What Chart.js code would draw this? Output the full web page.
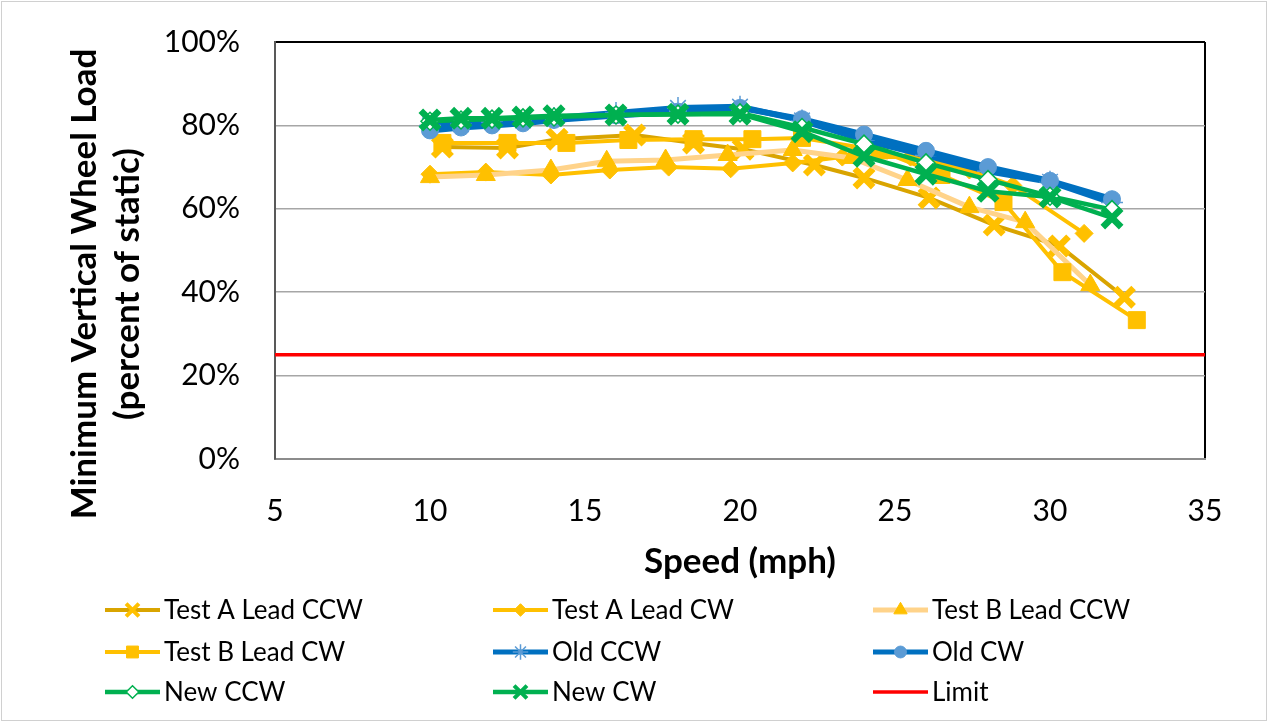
<!DOCTYPE html>
<html><head><meta charset="utf-8">
<script src="https://cdn.jsdelivr.net/npm/chart.js@4/dist/chart.umd.min.js"></script>
<style>
html,body{margin:0;padding:0;background:#fff;}
#wrap{position:relative;width:1268px;height:722px;overflow:hidden;}
#frame{position:absolute;left:1px;top:1px;right:1px;bottom:1px;border:1px solid #d0d0d0;pointer-events:none;}
canvas{display:block;}
</style></head><body>
<div id="wrap"><canvas id="c" width="1268" height="722"></canvas><div id="frame"></div></div>
<script>
// ---- data ----
const xTickValues = [5, 10, 15, 20, 25, 30, 35];
const yTickValues = [0, 20, 40, 60, 80, 100];
const seriesNames = ['Test A Lead CCW','Test A Lead CW','Test B Lead CCW','Test B Lead CW','Old CCW','Old CW','New CCW','New CW','Limit'];

const testACcwX = [10.4,12.5,14.1,16.6,18.5,20.1,22.4,24.0,26.1,28.2,30.3,32.4];
const testACcwY = [74.8,74.6,76.7,77.7,75.8,74.3,70.5,67.4,62.6,56.1,51.1,38.8];

const testACwX = [10.0,11.8,13.9,15.8,17.7,19.7,21.7,23.3,25.5,27.4,28.8,31.1];
const testACwY = [68.3,68.8,68.1,69.3,70.0,69.6,71.0,72.4,72.4,69.3,65.6,54.1];

const testBCcwX = [10.0,11.8,13.9,15.7,17.6,19.6,21.7,23.6,25.4,27.4,29.2,31.3];
const testBCcwY = [67.6,68.1,69.3,71.4,71.7,72.9,74.1,72.2,66.9,60.4,56.8,41.7];

const testBCwX = [10.4,12.5,14.4,16.4,18.5,20.4,22.0,24.5,26.5,28.5,30.4,32.8];
const testBCwY = [75.8,75.8,75.8,76.5,76.7,76.7,77.0,74.0,68.1,61.6,44.8,33.3];

const oldX = [10,11,12,13,14,16,18,20,22,24,26,28,30,32];
const oldCcwY = [80.0,80.3,80.8,81.2,81.8,83.0,84.2,84.5,81.2,76.5,72.8,69.0,66.5,61.5];
const oldCwY  = [78.8,79.5,80.0,80.5,81.3,82.4,83.3,84.2,81.5,77.8,73.9,70.0,66.7,62.3];

const newX = [10,11,12,13,14,16,18,20,22,24,26,28,30,32];
const newCcwY = [81.0,81.3,81.5,81.8,82.0,82.5,82.7,83.0,79.5,75.5,71.0,67.0,63.0,59.8];
const newCwY  = [81.3,81.7,81.7,82.0,82.3,82.5,82.7,82.7,78.5,72.6,68.3,64.2,62.8,57.8];

const limitX = [5, 35];
const limitY = [25, 25];

// ---- styling ----
const pts = (xs, ys) => xs.map((x, i) => ({x: x, y: ys[i]}));
function ds(i, xs, ys, st) {
  return {
    label: seriesNames[i],
    data: pts(xs, ys),
    order: 20 - i,
    borderColor: st.line,
    borderWidth: st.width,
    pointStyle: st.style || false,
    pointRadius: st.style ? st.radius : 0,
    pointHoverRadius: st.style ? st.radius : 0,
    pointBackgroundColor: st.fill || st.mark,
    pointBorderColor: st.mark,
    pointBorderWidth: st.pbw,
    tension: 0,
    fill: false
  };
}
const datasets = [
  ds(0, testACcwX, testACcwY, {line:'#D9A400', width:4, style:'crossRot', mark:'#FFC000', radius:13, pbw:6.5}),
  ds(1, testACwX, testACwY, {line:'#FFC000', width:4, style:'rectRot', mark:'#FFC000', radius:9, pbw:1}),
  ds(2, testBCcwX, testBCcwY, {line:'#FFD38A', width:5, style:'triangle', mark:'#FFC000', radius:11, pbw:1}),
  ds(3, testBCwX, testBCwY, {line:'#FFC000', width:4, style:'rect', mark:'#FFC000', radius:12, pbw:1}),
  ds(4, oldX, oldCcwY, {line:'#0070C0', width:6, style:'star', mark:'#5B9BD5', radius:11, pbw:1.5}),
  ds(5, oldX, oldCwY, {line:'#0070C0', width:6, style:'circle', mark:'#5B9BD5', radius:8.5, pbw:1}),
  ds(6, newX, newCcwY, {line:'#00B050', width:4.5, style:'rectRot', mark:'#00B050', fill:'#FFFFFF', radius:9, pbw:1.5}),
  ds(7, newX, newCwY, {line:'#00B050', width:4.5, style:'crossRot', mark:'#00B050', radius:13, pbw:6.5}),
  ds(8, limitX, limitY, {line:'#FF0000', width:3.5})
];

const FONT = 'Lato';

// y axis title (two lines, rotated) drawn at the position Excel uses
const yTitlePlugin = {
  id: 'yTitle',
  afterDraw(chart) {
    const ctx = chart.ctx;
    ctx.save();
    ctx.fillStyle = '#000';
    ctx.font = 'bold 35px ' + FONT;
    ctx.textAlign = 'center';
    ctx.textBaseline = 'middle';
    const lines = ['Minimum Vertical Wheel Load', '(percent of static)'];
    const xs = [85, 128];
    lines.forEach((t, i) => {
      ctx.save();
      ctx.translate(xs[i], 284);
      ctx.rotate(-Math.PI / 2);
      ctx.fillText(t, 0, 0);
      ctx.restore();
    });
    ctx.restore();
  }
};

// three-column legend like the reference
const legendPlugin = {
  id: 'gridLegend',
  afterDraw(chart) {
    const ctx = chart.ctx;
    const colX = [105, 493, 873];
    const rowY = [610, 652, 692];
    const lineLen = 55;
    chart.data.datasets.forEach((d, i) => {
      const x0 = colX[i % 3], y = rowY[Math.floor(i / 3)];
      ctx.save();
      ctx.strokeStyle = d.borderColor;
      ctx.lineWidth = Math.min(d.borderWidth, 5);
      ctx.beginPath();
      ctx.moveTo(x0, y);
      ctx.lineTo(x0 + lineLen, y);
      ctx.stroke();
      if (d.pointStyle) {
        ctx.fillStyle = d.pointBackgroundColor;
        ctx.strokeStyle = d.pointBorderColor;
        ctx.lineWidth = d.pointStyle === 'crossRot' ? 4 : d.pointBorderWidth;
        Chart.helpers.drawPoint(ctx, {pointStyle: d.pointStyle, radius: d.pointRadius * 0.7, rotation: 0, borderWidth: ctx.lineWidth}, x0 + lineLen / 2, y);
      }
      ctx.fillStyle = '#000';
      ctx.font = '26px ' + FONT;
      ctx.textAlign = 'left';
      ctx.textBaseline = 'middle';
      ctx.fillText(d.label, x0 + lineLen + 4, y + 1);
      ctx.restore();
    });
  }
};

function build() {
  Chart.defaults.font.family = FONT;
  Chart.defaults.color = '#000';
  new Chart(document.getElementById('c'), {
    type: 'line',
    data: { datasets: datasets },
    options: {
      responsive: false,
      animation: false,
      events: [],
      layout: { padding: { top: 42, right: 63, left: 0, bottom: 0 } },
      plugins: { legend: { display: false }, tooltip: { enabled: false } },
      scales: {
        x: {
          type: 'linear',
          min: xTickValues[0],
          max: xTickValues[xTickValues.length - 1],
          afterBuildTicks: s => { s.ticks = xTickValues.map(v => ({value: v})); },
          afterFit: s => { s.height = 263; s.paddingLeft = 0; s.paddingRight = 0; },
          ticks: { font: { size: 30 }, padding: 34, color: '#000' },
          grid: {
            drawTicks: false,
            color: c => (c.tick && c.tick.value === 35) ? '#000' : 'rgba(0,0,0,0)',
            lineWidth: 2
          },
          border: { color: '#8c8c8c', width: 2 },
          title: { display: true, text: 'Speed (mph)', font: { size: 35, weight: 'bold' }, color: '#000', padding: { top: 0, bottom: 139 } }
        },
        y: {
          min: 0, max: 100,
          afterBuildTicks: s => { s.ticks = yTickValues.map(v => ({value: v})); },
          afterFit: s => { s.width = 275; s.paddingTop = 0; s.paddingBottom = 0; },
          ticks: { font: { size: 30 }, padding: 35, color: '#000', callback: v => v + '%' },
          grid: {
            drawTicks: false,
            color: c => (c.tick.value === 100) ? '#000' : (c.tick.value === 0 ? 'rgba(0,0,0,0)' : '#a6a6a6'),
            lineWidth: c => (c.tick.value === 100) ? 2 : 1.5
          },
          border: { color: '#595959', width: 2 }
        }
      }
    },
    plugins: [yTitlePlugin, legendPlugin]
  });
}
Promise.all([document.fonts.load('30px Lato'), document.fonts.load('bold 31px Lato')]).then(build, build);
</script>
</body></html>
